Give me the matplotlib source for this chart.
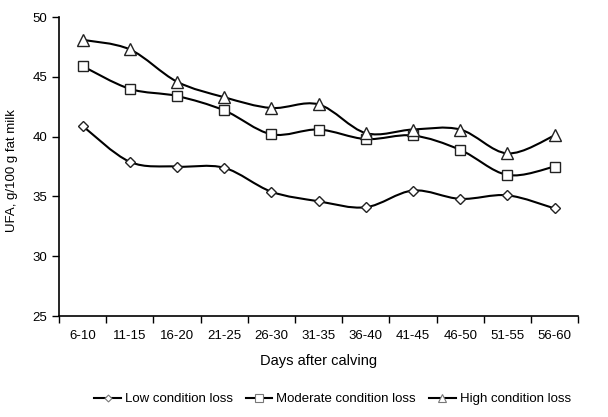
import numpy as np
import matplotlib.pyplot as plt
from matplotlib.path import Path
from matplotlib.patches import PathPatch

plt.rcParams["font.family"] = ["Liberation Sans", "DejaVu Sans"]

days = ["6-10", "11-15", "16-20", "21-25", "26-30", "31-35",
        "36-40", "41-45", "46-50", "51-55", "56-60"]
low = [40.9, 37.9, 37.5, 37.4, 35.4, 34.6, 34.1, 35.5, 34.8, 35.1, 34.0]
moderate = [45.9, 44.0, 43.4, 42.2, 40.2, 40.6, 39.8, 40.1, 38.9, 36.8, 37.5]
high = [48.1, 47.3, 44.6, 43.3, 42.4, 42.7, 40.3, 40.6, 40.6, 38.6, 40.1]


def smooth_path(x, y):
    # Excel-style smoothed line: cubic Bezier through every point
    pts = np.column_stack([x, y]).astype(float)
    ext = np.vstack([pts[0], pts, pts[-1]])
    verts = [pts[0]]
    codes = [Path.MOVETO]
    for i in range(len(pts) - 1):
        p0, p1, p2, p3 = ext[i], ext[i + 1], ext[i + 2], ext[i + 3]
        c1 = p1 + (p2 - p0) / 6
        c2 = p2 - (p3 - p1) / 6
        verts += [c1, c2, p2]
        codes += [Path.CURVE4] * 3
    return Path(verts, codes)


fig = plt.figure(figsize=(6.08, 4.17), dpi=100)
ax = fig.add_axes([0.097, 0.242, 0.854, 0.717])

x = np.arange(len(days))
series = [
    ("Low condition loss", low, "D", 5),
    ("Moderate condition loss", moderate, "s", 7.5),
    ("High condition loss", high, "^", 8.5),
]
for name, vals, mk, ms in series:
    ax.add_patch(PathPatch(smooth_path(x, vals), facecolor="none",
                           edgecolor="black", lw=1.5, zorder=2))
    ax.plot(x, vals, linestyle="none", marker=mk, ms=ms, mfc="white",
            mec="#222222", mew=1.0, zorder=3)
    ax.plot([], [], color="black", lw=1.5, marker=mk, ms=ms * 0.7,
            mfc="white", mec="#777777", mew=0.8, label=name)

ax.set_xlim(-0.5, len(days) - 0.5)
ax.set_ylim(25, 50)
ax.set_yticks([25, 30, 35, 40, 45, 50])
ax.set_xticks(np.arange(-0.5, len(days), 1.0))
ax.set_xticklabels([])
ax.set_xticks(x, minor=True)
ax.set_xticklabels(days, minor=True)
ax.tick_params(axis="x", which="major", length=5, width=1, direction="out")
ax.tick_params(axis="x", which="minor", length=0, pad=10, labelsize=9.5)
ax.tick_params(axis="y", length=5, width=1, direction="out", labelsize=9.5)

for s in ["top", "right"]:
    ax.spines[s].set_visible(False)
for s in ["left", "bottom"]:
    ax.spines[s].set_linewidth(1.2)

ax.set_xlabel("Days after calving", fontsize=10.5, labelpad=9)
ax.set_ylabel("UFA, g/100 g fat milk", fontsize=9.5)
ax.yaxis.set_label_coords(-0.079, 0.488)

fig.legend(loc="lower center", bbox_to_anchor=(0.547, 0.0), ncol=3,
           frameon=False, fontsize=9.5, handlelength=2.0, columnspacing=1.0,
           handletextpad=0.3)

plt.savefig("out.png", dpi=100)
plt.close()
